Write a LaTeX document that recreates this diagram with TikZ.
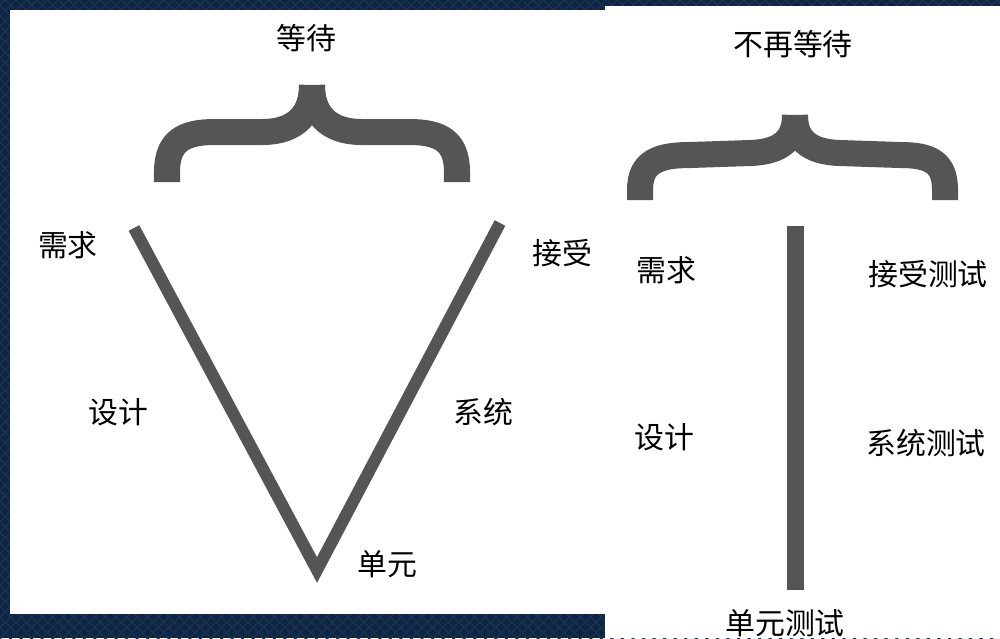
\documentclass[tikz,border=0pt]{standalone}
\usepackage{fontspec}
\newfontfamily\cjk{Noto Sans CJK SC}
\usetikzlibrary{patterns}
\definecolor{bgnavy}{HTML}{0E2440}
\definecolor{bgline}{HTML}{173252}
\definecolor{strokegray}{HTML}{555555}
\begin{document}
\begin{tikzpicture}[x=0.01cm,y=-0.01cm,
  lbl/.style={font=\cjk\fontsize{8.5}{10}\selectfont, text=black, inner sep=0pt},
  brace/.style={draw=strokegray, line width=0.26cm, line cap=butt, line join=round},
  vline/.style={draw=strokegray, line width=0.12cm, line cap=butt, line join=miter},
  vbar/.style={draw=strokegray, line width=0.17cm, line cap=butt},
  panel/.style={fill=white, draw=none}]
\useasboundingbox (0,0) rectangle (1000,638);
% background
\fill[bgnavy] (0,0) rectangle (1000,638);
\fill[pattern=north east lines, pattern color=bgline] (0,0) rectangle (1000,638);
\fill[pattern=north west lines, pattern color=bgline] (0,0) rectangle (1000,638);
% panels
\fill[panel] (10,10) rectangle (605,614);
\fill[panel] (605,6) rectangle (1000,638);

% ---------- left panel ----------
\node[lbl] (wait) at (306,38) {等待};
% brace
\draw[brace] (167,182) -- (167,172) .. controls (167,140) and (185,132) .. (215,132)
  -- (262,132) .. controls (298,132) and (312,112) .. (312,85);
\draw[brace] (457,182) -- (457,172) .. controls (457,140) and (439,132) .. (409,132)
  -- (362,132) .. controls (326,132) and (312,112) .. (312,85);
% V
\draw[vline] (134,228) -- (317,570) -- (500,223);
\node[lbl] (reqL) at (68,245) {需求};
\node[lbl] (desL) at (118,412) {设计};
\node[lbl] (accL) at (562,253) {接受};
\node[lbl] (sysL) at (483,412) {系统};
\node[lbl] (unitL) at (387,564) {单元};

% ---------- right panel ----------
\node[lbl] (nowait) at (793,44) {不再等待};
\draw[brace] (640,200) -- (640,190) .. controls (640,162) and (658,155) .. (690,155)
  -- (750,153) .. controls (783,152) and (795,138) .. (795,115);
\draw[brace] (945,200) -- (945,190) .. controls (945,162) and (930,155) .. (900,155)
  -- (840,153) .. controls (807,152) and (795,138) .. (795,115);
\draw[vbar] (795,226) -- (795,590);
\node[lbl] (reqR) at (666,270) {需求};
\node[lbl] (desR) at (664,437) {设计};
\node[lbl] (accR) at (928,274) {接受测试};
\node[lbl] (sysR) at (926,443) {系统测试};
\node[lbl] (unitR) at (785,623) {单元测试};
\end{tikzpicture}
\end{document}
